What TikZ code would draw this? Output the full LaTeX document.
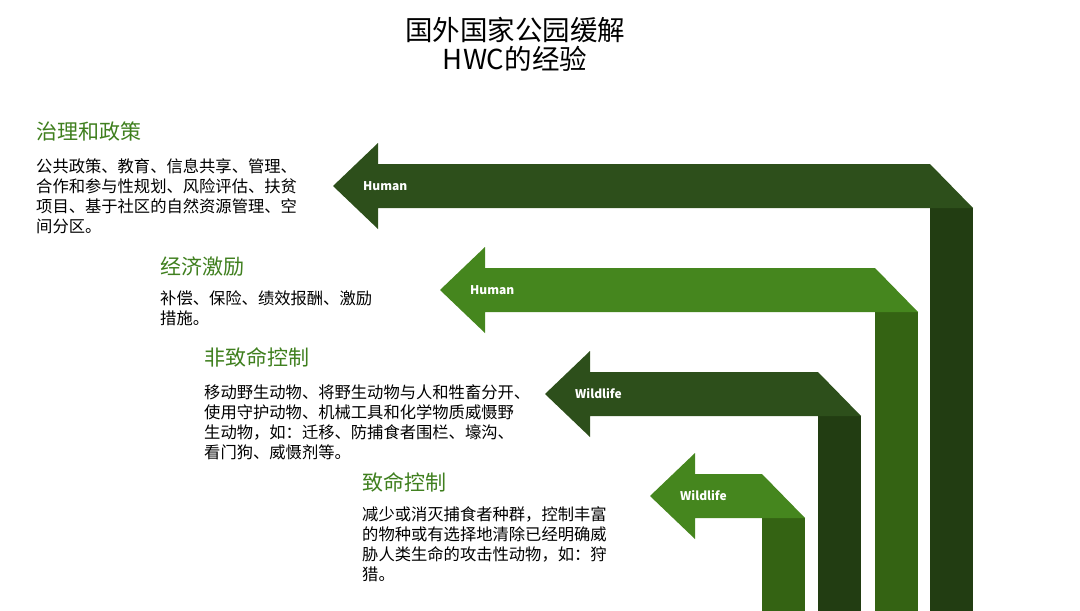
\documentclass[tikz,border=0pt]{standalone}
\usepackage{fontspec}
\setmainfont{Noto Sans CJK SC}
\definecolor{darkH}{HTML}{2D4F1B}
\definecolor{darkV}{HTML}{223D12}
\definecolor{lightH}{HTML}{45861E}
\definecolor{lightV}{HTML}{346313}
\definecolor{headgreen}{HTML}{3F7F1E}
\tikzset{
  head/.style={anchor=north west, text=headgreen, font=\fontsize{21}{24}\selectfont, inner sep=0pt},
  body/.style={anchor=north west, align=left, font=\fontsize{16.3}{20}\selectfont, inner sep=0pt},
  tag/.style={anchor=west, text=white, font=\bfseries\fontsize{12}{14}\selectfont, inner sep=0pt},
}
% #1 top y, #2 corner x, #3 tip x, #4 colour of band, #5 colour of post, #6 tag
\newcommand\bentarrow[6]{%
  \fill[#5] (#2,#1+44) rectangle (#2+43,611);
  \fill[#4] (#3,#1+22) -- (#3+45,#1-21) -- (#3+45,#1) -- (#2,#1)
    -- (#2+43,#1+44) -- (#3+45,#1+44) -- (#3+45,#1+65) -- cycle;
  \node[tag] at (#3+30,#1+22) {#6};
}
\begin{document}
\begin{tikzpicture}[x=1pt,y=-1pt]
  \useasboundingbox (0,0) rectangle (1080,611);
  \node[align=center, font=\fontsize{27.5}{29}\selectfont] (title) at (515,44) {国外国家公园缓解\\HWC的经验};
  % arrows
  \bentarrow{164}{930}{333}{darkH}{darkV}{Human}
  \bentarrow{268}{875}{440}{lightH}{lightV}{Human}
  \bentarrow{372}{818}{545}{darkH}{darkV}{Wildlife}
  \bentarrow{474}{762}{650}{lightH}{lightV}{Wildlife}
  % texts
  \node[head] (h1) at (36,122) {治理和政策};
  \node[body] (b1) at (36,158) {公共政策、教育、信息共享、管理、\\合作和参与性规划、风险评估、扶贫\\项目、基于社区的自然资源管理、空\\间分区。};
  \node[head] (h2) at (160,257) {经济激励};
  \node[body] (b2) at (160,290) {补偿、保险、绩效报酬、激励\\措施。};
  \node[head] (h3) at (204,347) {非致命控制};
  \node[body] (b3) at (204,384) {移动野生动物、将野生动物与人和牲畜分开、\\使用守护动物、机械工具和化学物质威慑野\\生动物，如：迁移、防捕食者围栏、壕沟、\\看门狗、威慑剂等。};
  \node[head] (h4) at (362,472) {致命控制};
  \node[body] (b4) at (362,506) {减少或消灭捕食者种群，控制丰富\\的物种或有选择地清除已经明确威\\胁人类生命的攻击性动物，如：狩\\猎。};
\end{tikzpicture}
\end{document}
